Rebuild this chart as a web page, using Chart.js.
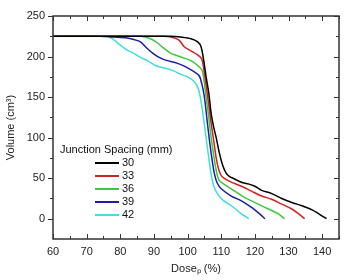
<!DOCTYPE html>
<html>
<head>
<meta charset="utf-8">
<script src="https://cdn.jsdelivr.net/npm/chart.js@4.4.0/dist/chart.umd.min.js"></script>
<style>
  html, body { margin: 0; padding: 0; background: #fff; }
  #wrap { width: 344px; height: 280px; }
</style>
</head>
<body>
<div id="wrap"><canvas id="myChart" width="344" height="280"></canvas></div>
<script>
// tick labels
var xTicks = [60, 70, 80, 90, 100, 110, 120, 130, 140];
var yTicks = [0, 50, 100, 150, 200, 250];

// legend entries (junction spacing, mm)
var spacings = ["30", "33", "36", "39", "42"];

// dose (%) / volume (cm3)
var dose30 = [60, 95, 98, 101, 103, 104, 104.8, 105.5, 106.3, 107, 107.8, 108.5, 109.5, 110.5, 111.5, 112.5, 114, 116, 118, 120, 122, 125, 128, 131, 134, 137, 139, 141.3];
var vol30  = [225, 225, 224, 222, 218, 212, 195, 175, 155, 130, 112, 100, 80, 65, 56, 52, 49, 45, 43, 40, 35, 31, 25, 20, 16, 11, 6, 0];

var dose33 = [60, 93, 95, 97.5, 99, 101, 103, 104.2, 104.8, 105.5, 106.3, 107, 107.8, 108.5, 109.3, 110.2, 112.5, 116, 119, 122, 125, 128, 131, 133, 134.8];
var vol33  = [225, 225, 224, 220, 212, 207, 202, 197, 185, 165, 140, 118, 95, 75, 60, 52, 46, 40, 34, 28, 24, 18, 12, 6, 0];

var dose36 = [60, 86, 89, 91, 93, 95, 97, 99, 101, 103, 104.3, 104.9, 105.5, 106.3, 107, 107.7, 108.5, 109.3, 111, 114, 117, 121, 124, 127, 128.8];
var vol36  = [225, 225, 222, 217, 210, 204, 201, 198, 195, 189, 183, 170, 150, 125, 100, 80, 60, 48, 42, 34, 26, 18, 12, 6, 0];

var dose39 = [60, 74, 78, 82, 84, 86, 88, 90, 92, 94, 96, 98, 100, 102, 103.5, 104.3, 105, 105.7, 106.4, 107.2, 108, 108.8, 110, 113, 116, 119, 121.4, 123];
var vol39  = [225, 225, 224, 223, 221, 218, 210, 203, 198, 195, 193, 190, 186, 181, 176, 165, 150, 125, 100, 75, 55, 44, 37, 28, 22, 14, 6, 0];

var dose42 = [60, 76, 78, 80, 82, 84, 86, 88, 91, 94, 96, 98, 100, 102, 103.2, 104, 104.7, 105.5, 106.3, 107, 107.8, 109, 110.5, 113, 116, 118.2];
var vol42  = [225, 225, 221, 214, 208, 204, 199, 195, 188, 185, 182, 178, 175, 169, 160, 145, 125, 100, 75, 55, 40, 30, 23, 16, 6, 0];

var colors = ["#000000", "#d42020", "#3cc83c", "#1c1ca8", "#40dede"];

function pts(xs, ys) {
  return xs.map(function (x, i) { return { x: x, y: ys[i] }; });
}

var series = [pts(dose30, vol30), pts(dose33, vol33), pts(dose36, vol36), pts(dose39, vol39), pts(dose42, vol42)];

var frame = {
  id: "frame",
  afterDraw: function (chart) {
    var c = chart.ctx, a = chart.chartArea;
    var xs = chart.scales.x, ys = chart.scales.y;
    c.save();
    c.strokeStyle = "#333";
    c.lineWidth = 1.5;
    c.strokeRect(a.left, a.top, a.right - a.left, a.bottom - a.top);
    c.lineWidth = 1;
    var v, p, len;
    // x ticks, bottom (inward) and top (inward)
    for (v = 60; v <= 145; v += 5) {
      p = Math.round(xs.getPixelForValue(v)) + 0.5;
      len = v % 10 === 0 ? 5 : 3;
      c.beginPath();
      c.moveTo(p, a.bottom); c.lineTo(p, a.bottom - len);
      c.moveTo(p, a.top); c.lineTo(p, a.top + len);
      c.stroke();
    }
    // y ticks, left (outward) and right (inward)
    for (v = 0; v <= 250; v += 25) {
      p = Math.round(ys.getPixelForValue(v)) + 0.5;
      len = v % 50 === 0 ? 5 : 3;
      c.beginPath();
      c.moveTo(a.left, p); c.lineTo(a.left - len, p);
      c.moveTo(a.right, p); c.lineTo(a.right - len, p);
      c.stroke();
    }
    // legend
    var lx = a.left + 7, ly = a.top + 134;
    c.fillStyle = "#111";
    c.font = "11px 'Liberation Sans', Arial, sans-serif";
    c.textBaseline = "middle";
    c.textAlign = "left";
    c.fillText("Junction Spacing (mm)", lx, ly);
    chart.data.datasets.forEach(function (ds, i) {
      var yy = ly + 13 + i * 13;
      c.strokeStyle = ds.borderColor;
      c.lineWidth = 2;
      c.beginPath();
      c.moveTo(lx + 35, yy); c.lineTo(lx + 59, yy);
      c.stroke();
      c.fillText(ds.label, lx + 62, yy);
    });
    c.restore();
  }
};

var ctx = document.getElementById("myChart");
var myChart = new Chart(ctx, {
  type: "line",
  data: {
    datasets: series.map(function (d, i) {
      return {
        label: spacings[i],
        data: d,
        borderColor: colors[i],
        backgroundColor: colors[i],
        borderWidth: 1.5,
        pointRadius: 0,
        tension: 0.3,
        fill: false
      };
    })
  },
  options: {
    responsive: false,
    animation: false,
    layout: { padding: { top: 16, right: 5, left: 0, bottom: 0 } },
    plugins: { legend: { display: false }, tooltip: { enabled: false } },
    scales: {
      x: {
        type: "linear",
        min: 60,
        max: 145,
        afterBuildTicks: function (s) { s.ticks = xTicks.map(function (v) { return { value: v }; }); },
        afterFit: function (s) { s.height = 41; },
        grid: { display: false, drawTicks: false },
        border: { display: false },
        ticks: { color: "#222", padding: 6, maxRotation: 0, font: { size: 11, family: "'Liberation Sans', Arial, sans-serif" } },
        title: { display: true, text: "Doseₚ (%)", color: "#222", padding: { top: 4 }, font: { size: 11, family: "'Liberation Sans', Arial, sans-serif" } }
      },
      y: {
        min: -25,
        max: 250,
        afterBuildTicks: function (s) { s.ticks = yTicks.map(function (v) { return { value: v }; }); },
        afterFit: function (s) { s.width = 53; },
        grid: { display: false, drawTicks: false },
        border: { display: false },
        ticks: { color: "#222", padding: 8, font: { size: 11, family: "'Liberation Sans', Arial, sans-serif" } },
        title: { display: true, text: "Volume (cm³)", color: "#222", padding: { bottom: 2 }, font: { size: 11, family: "'Liberation Sans', Arial, sans-serif" } }
      }
    }
  },
  plugins: [frame]
});
</script>
</body>
</html>
